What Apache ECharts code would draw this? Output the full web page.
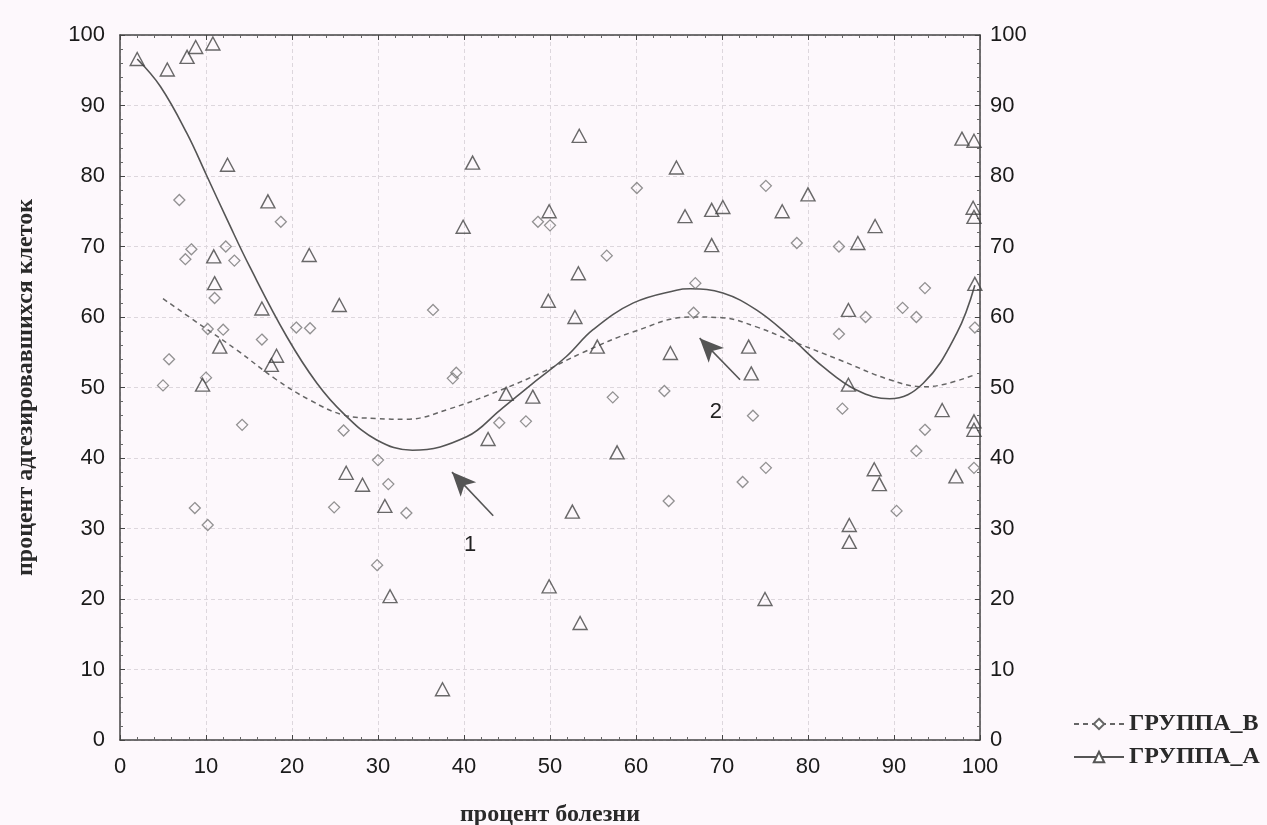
<!DOCTYPE html>
<html>
<head>
<meta charset="utf-8">
<script src="https://cdn.jsdelivr.net/npm/echarts@6/dist/echarts.min.js"></script>
<style>
  html, body { margin: 0; padding: 0; background: #fdf8fc; }
  #chart { width: 1267px; height: 825px; }
</style>
</head>
<body>
<div id="chart"></div>
<script>
// data
var groupA_x = [2.0, 5.5, 7.8, 8.8, 10.8, 12.5, 17.2, 22.0, 10.9, 11.0, 16.5, 25.5, 11.6, 18.2, 17.6, 9.6,
  26.3, 28.2, 30.8, 31.4, 37.5, 39.9, 41.0, 42.8, 44.9, 48.0, 49.9, 49.8, 53.4, 53.3, 52.9, 52.6,
  49.9, 53.5, 55.5, 57.8, 64.7, 64.0, 65.7, 68.8, 70.1, 68.8, 73.1, 73.4, 77.0, 80.0, 75.0, 84.7,
  85.8, 87.8, 84.7, 87.7, 88.3, 84.8, 84.8, 95.6, 97.2, 97.9, 99.3, 99.2, 99.3, 99.4, 99.3, 99.3];
var groupA_y = [96.6, 95.1, 96.9, 98.3, 98.8, 81.6, 76.4, 68.8, 68.6, 64.8, 61.2, 61.7, 55.8, 54.5, 53.2, 50.4,
  37.9, 36.2, 33.2, 20.4, 7.2, 72.8, 81.9, 42.7, 49.1, 48.7, 75.0, 62.3, 85.7, 66.2, 60.0, 32.4,
  21.8, 16.6, 55.8, 40.8, 81.2, 54.9, 74.3, 75.2, 75.6, 70.2, 55.8, 52.0, 75.0, 77.4, 20.0, 61.0,
  70.5, 72.9, 50.4, 38.4, 36.3, 30.5, 28.1, 46.8, 37.4, 85.3, 85.0, 75.5, 74.2, 64.7, 45.2, 44.0];

var groupB_x = [5.0, 5.7, 6.9, 7.6, 8.3, 8.7, 10.0, 10.2, 10.2, 11.0, 12.0, 12.3, 13.3, 14.2, 16.5, 18.7,
  20.5, 22.1, 24.9, 26.0, 29.9, 30.0, 31.2, 33.3, 36.4, 38.7, 39.1, 44.1, 47.2, 48.6, 50.0, 56.6,
  57.3, 60.1, 63.3, 63.8, 66.9, 66.7, 72.4, 73.6, 75.1, 75.1, 78.7, 83.6, 83.6, 84.0, 86.7, 90.3,
  91.0, 92.6, 92.6, 93.6, 93.6, 99.4, 99.3];
var groupB_y = [50.3, 54.0, 76.6, 68.2, 69.6, 32.9, 51.4, 30.5, 58.3, 62.7, 58.2, 70.0, 68.0, 44.7, 56.8, 73.5,
  58.5, 58.4, 33.0, 43.9, 24.8, 39.7, 36.3, 32.2, 61.0, 51.3, 52.1, 45.0, 45.2, 73.5, 73.0, 68.7,
  48.6, 78.3, 49.5, 33.9, 64.8, 60.6, 36.6, 46.0, 78.6, 38.6, 70.5, 70.0, 57.6, 47.0, 60.0, 32.5,
  61.3, 60.0, 41.0, 64.1, 44.0, 58.5, 38.6];

// fitted curves
var fitA_x = [2, 4.7, 7.8, 10.1, 12.5, 15.1, 19.4, 22.9, 26, 29.8, 34, 40.3, 44.2, 48, 51.9, 55,
  59.7, 64.7, 66.3, 70.1, 74, 77.9, 81.7, 85.7, 89.5, 93.4, 97.3, 99.4];
var fitA_y = [96.6, 92.7, 86, 80, 73.7, 67.1, 57.2, 50.6, 46.3, 42.6, 41.1, 43, 46.8, 50.6, 54.4, 58.2,
  62, 63.8, 64, 63.4, 61, 57.2, 53, 49.6, 48.4, 50.6, 57.7, 64.5];
var fitB_x = [5, 9.7, 13.6, 18.2, 22.1, 26, 29.8, 33.3, 38.4, 44.2, 48.8, 53.9, 59.7, 66.3, 70,
  74, 77.9, 83.7, 89.5, 93.4, 96, 99.4];
var fitB_y = [62.6, 58.6, 55.3, 51.1, 48.2, 46.1, 45.6, 45.5, 47, 49.6, 52, 55, 57.9, 60, 59.9,
  58.6, 56.7, 53.9, 51.1, 50.1, 50.5, 51.8];

function zip(xs, ys) {
  return xs.map(function (x, i) { return [x, ys[i]]; });
}

var myChart = echarts.init(document.getElementById('chart'));

var axisFont = { fontFamily: 'Liberation Sans, Arial, sans-serif', fontSize: 22, color: '#1a1a1a' };
var titleFont = { fontFamily: 'Liberation Serif, DejaVu Serif, serif', fontSize: 24, fontWeight: 'bold', color: '#2a2a2a' };
var gridLine = { show: true, lineStyle: { color: '#ddd7dd', type: [4, 3], width: 1 } };

function valueAxis(extra) {
  var base = {
    type: 'value',
    min: 0,
    max: 100,
    interval: 10,
    axisLine: { show: true, onZero: false, lineStyle: { color: '#444', width: 1.5 } },
    axisTick: { show: true, inside: true, length: 5, lineStyle: { color: '#444' } },
    minorTick: { show: true, splitNumber: 5, length: 3, lineStyle: { color: '#666' } },
    splitLine: { show: false },
    axisLabel: Object.assign({ margin: 15 }, axisFont)
  };
  return Object.assign(base, extra);
}

option = {
  backgroundColor: '#fdf8fc',
  animation: false,
  grid: { left: 120, right: 287, top: 35, bottom: 85, outerBoundsMode: 'none', containLabel: false },
  legend: {
    orient: 'vertical',
    left: 1068,
    top: 707,
    itemGap: 9,
    itemWidth: 50,
    itemHeight: 13,
    textStyle: titleFont,
    data: ['ГРУППА_В', 'ГРУППА_А']
  },
  xAxis: [
    valueAxis({
      position: 'bottom',
      name: 'процент болезни',
      nameLocation: 'middle',
      nameGap: 63,
      nameTextStyle: titleFont,
      splitLine: gridLine,
      axisLabel: Object.assign({ margin: 16 }, axisFont)
    }),
    valueAxis({ position: 'top', axisLabel: { show: false } })
  ],
  yAxis: [
    valueAxis({
      position: 'left',
      name: 'процент адгезировавшихся клеток',
      nameLocation: 'middle',
      nameGap: 82,
      nameTextStyle: titleFont,
      splitLine: gridLine
    }),
    valueAxis({ position: 'right', axisLabel: Object.assign({ margin: 10 }, axisFont) })
  ],
  series: [
    {
      name: 'ГРУППА_В',
      type: 'line',
      data: zip(fitB_x, fitB_y),
      smooth: 0.4,
      symbol: 'emptyDiamond',
      symbolSize: 9,
      showSymbol: false,
      lineStyle: { color: '#666', width: 1.5, type: [5, 4] },
      itemStyle: { color: '#666' },
      z: 3
    },
    {
      name: 'ГРУППА_А',
      type: 'line',
      data: zip(fitA_x, fitA_y),
      smooth: 0.4,
      symbol: 'emptyTriangle',
      symbolSize: 11,
      showSymbol: false,
      lineStyle: { color: '#555', width: 1.6 },
      itemStyle: { color: '#555' },
      z: 3
    },
    {
      name: 'ГРУППА_В',
      type: 'scatter',
      data: zip(groupB_x, groupB_y),
      symbol: 'diamond',
      symbolSize: 11,
      itemStyle: { color: 'rgba(0,0,0,0)', borderColor: '#777', borderWidth: 1.3 },
      z: 4
    },
    {
      name: 'ГРУППА_А',
      type: 'scatter',
      data: zip(groupA_x, groupA_y),
      symbol: 'triangle',
      symbolSize: [14, 13],
      itemStyle: { color: 'rgba(0,0,0,0)', borderColor: '#444', borderWidth: 1.4 },
      z: 5,
      markLine: {
        silent: true,
        symbol: ['none', 'arrow'],
        symbolSize: [16, 24],
        lineStyle: { color: '#555', width: 1.6, type: 'solid' },
        label: { show: false },
        data: [
          [{ coord: [43.4, 31.8] }, { coord: [38.6, 38.0] }],
          [{ coord: [72.1, 51.1] }, { coord: [67.4, 57.0] }]
        ]
      },
      markPoint: {
        silent: true,
        symbol: 'circle',
        symbolSize: 0,
        label: { show: true, fontFamily: 'Liberation Sans, Arial, sans-serif', fontSize: 22, color: '#222', formatter: '{b}' },
        data: [
          { name: '1', coord: [40.7, 27.7] },
          { name: '2', coord: [69.3, 46.5] }
        ]
      }
    }
  ]
};

myChart.setOption(option);
</script>
</body>
</html>
